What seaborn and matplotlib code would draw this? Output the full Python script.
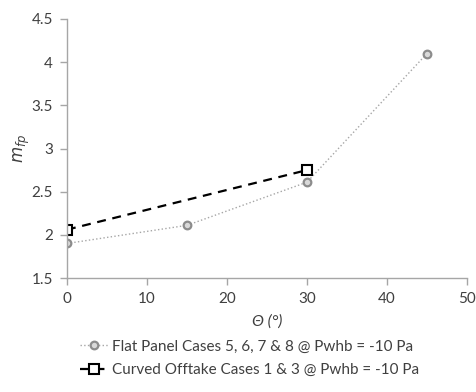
import seaborn as sns
import matplotlib.pyplot as plt
import pandas as pd

# data
theta_flat = [0, 15, 30, 45]
m_flat = [1.9, 2.11, 2.61, 4.1]
theta_curved = [0, 30]
m_curved = [2.06, 2.75]

label_flat = 'Flat Panel Cases 5, 6, 7 & 8 @ Pwhb = -10 Pa'
label_curved = 'Curved Offtake Cases 1 & 3 @ Pwhb = -10 Pa'

df_flat = pd.DataFrame({'theta': theta_flat, 'm': m_flat})
df_curved = pd.DataFrame({'theta': theta_curved, 'm': m_curved})

sns.set_style('ticks')
plt.rcParams['font.family'] = ['Lato', 'DejaVu Sans']
plt.rcParams['mathtext.fontset'] = 'dejavusans'

fig = plt.figure(figsize=(4.76, 3.92), dpi=100)
ax = fig.add_axes([67 / 476, 1 - 278 / 392, 400 / 476, 259 / 392])

sns.lineplot(data=df_flat, x='theta', y='m', ax=ax, color='#a6a6a6',
             linestyle=':', linewidth=1, marker='o', markersize=5.5,
             markerfacecolor='#d9d9d9', markeredgecolor='#8c8c8c',
             markeredgewidth=1.6, label=label_flat)
sns.lineplot(data=df_curved, x='theta', y='m', ax=ax, color='black',
             linestyle=(0, (4, 3)), linewidth=1.6, marker='s', markersize=6.5,
             markerfacecolor='white', markeredgecolor='black',
             markeredgewidth=1.5, label=label_curved)

ax.set_xlim(0, 50)
ax.set_ylim(1.5, 4.5)
ax.set_xticks([0, 10, 20, 30, 40, 50])
ax.set_yticks([1.5, 2, 2.5, 3, 3.5, 4, 4.5])
ax.set_yticklabels(['1.5', '2', '2.5', '3', '3.5', '4', '4.5'])
ax.set_xlabel('Θ (°)', fontsize=11.5, style='italic', color='#404040',
              labelpad=6)
ax.set_ylabel(r'$m_{fp}$', fontsize=12, color='#404040', labelpad=0)
ax.tick_params(labelcolor='#404040', labelsize=11, length=5, width=1,
               color='#a6a6a6', pad=5)
sns.despine(ax=ax)
for s in ['left', 'bottom']:
    ax.spines[s].set_color('#a6a6a6')
    ax.spines[s].set_linewidth(1)

ax.legend(loc='upper center', bbox_to_anchor=(0.457, -0.215), frameon=False,
          fontsize=11, handlelength=1.8, labelspacing=0.6,
          labelcolor='#404040', borderaxespad=0, handletextpad=0.3)

fig.savefig('out.png', dpi=100)
